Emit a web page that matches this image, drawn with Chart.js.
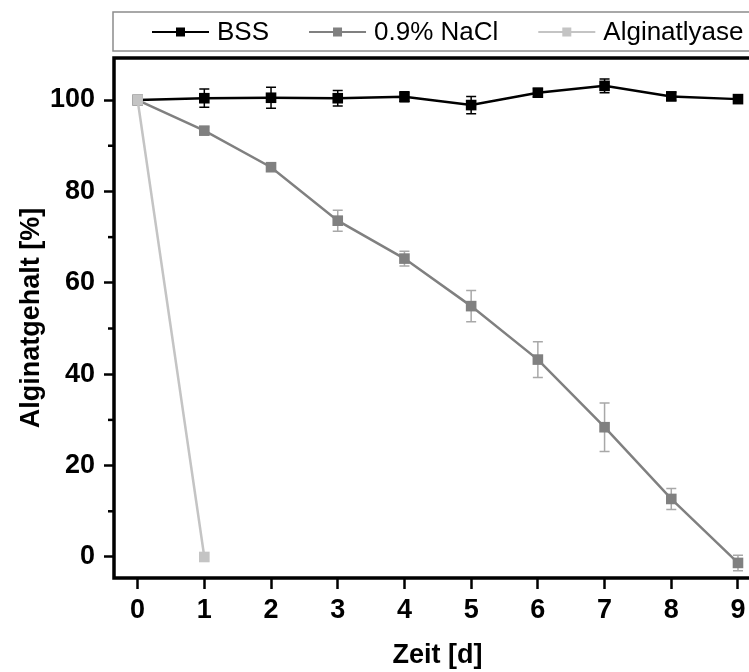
<!DOCTYPE html>
<html>
<head>
<meta charset="utf-8">
<script src="https://cdn.jsdelivr.net/npm/chart.js@4/dist/chart.umd.min.js"></script>
<style>
    html, body { margin: 0; padding: 0; background: #fff; overflow: hidden; }
    #chart { display: block; }
</style>
</head>
<body>
<canvas id="chart" width="770" height="672"></canvas>
<script>
const days = [0, 1, 2, 3, 4, 5, 6, 7, 8, 9];
const bssValues = [100, 100.4, 100.5, 100.4, 100.7, 98.9, 101.6, 103.1, 100.8, 100.2];
const bssErrors = [0, 2.0, 2.3, 1.7, 1.1, 1.9, 0.9, 1.5, 0.9, 0.5];
const naclValues = [100, 93.3, 85.3, 73.6, 65.3, 54.9, 43.2, 28.4, 12.7, -1.3];
const naclErrors = [0, 0.8, 0.8, 2.3, 1.6, 3.4, 3.9, 5.3, 2.3, 1.7];
const lyaseDays = [0, 1];
const lyaseValues = [100, 0];
const lyaseErrors = [0, 0];
const xTicks = [0, 1, 2, 3, 4, 5, 6, 7, 8, 9];
const yTicks = [0, 20, 40, 60, 80, 100];
const yMinorTicks = [10, 30, 50, 70, 90];

const fontFamily = "'Liberation Sans', Arial, sans-serif";

let toPoints = (xs, ys, errs) => xs.map((x, i) => ({ x, y: ys[i], err: errs[i] }));

// error bars, drawn under the markers
const errorBars = {
    id: 'errorBars',
    beforeDatasetsDraw(chart) {
        let ctx = chart.ctx;
        let yScale = chart.scales.y;
        chart.data.datasets.forEach((ds, i) => {
            let meta = chart.getDatasetMeta(i);
            ctx.save();
            ctx.strokeStyle = ds.errorColor;
            ctx.lineWidth = 1.5;
            meta.data.forEach((pt, j) => {
                let p = ds.data[j];
                if (!p.err) return;
                let top = yScale.getPixelForValue(p.y + p.err);
                let bottom = yScale.getPixelForValue(p.y - p.err);
                ctx.beginPath();
                ctx.moveTo(pt.x, top);
                ctx.lineTo(pt.x, bottom);
                ctx.moveTo(pt.x - 5, top);
                ctx.lineTo(pt.x + 5, top);
                ctx.moveTo(pt.x - 5, bottom);
                ctx.lineTo(pt.x + 5, bottom);
                ctx.stroke();
            });
            ctx.restore();
        });
    }
};

// frame, minor ticks and the boxed legend on top
const frameAndLegend = {
    id: 'frameAndLegend',
    afterDraw(chart) {
        let ctx = chart.ctx;
        let area = chart.chartArea;
        let yScale = chart.scales.y;
        ctx.save();

        ctx.strokeStyle = '#000';
        ctx.lineWidth = 2.5;
        yMinorTicks.forEach(v => {
            let y = yScale.getPixelForValue(v);
            ctx.beginPath();
            ctx.moveTo(area.left - 6, y);
            ctx.lineTo(area.left, y);
            ctx.stroke();
        });

        ctx.lineWidth = 3.5;
        ctx.strokeRect(area.left, area.top, area.right - area.left, area.bottom - area.top);

        // legend box
        ctx.strokeStyle = '#8c8c8c';
        ctx.lineWidth = 1.5;
        ctx.strokeRect(113, 12, 700, 39);

        ctx.font = '26px ' + fontFamily;
        ctx.textBaseline = 'middle';
        let x = 152;
        let y = 32;
        chart.data.datasets.forEach(ds => {
            ctx.strokeStyle = ds.borderColor;
            ctx.lineWidth = 2;
            ctx.beginPath();
            ctx.moveTo(x, y);
            ctx.lineTo(x + 57, y);
            ctx.stroke();
            ctx.fillStyle = ds.backgroundColor;
            ctx.fillRect(x + 24, y - 4.5, 9, 9);
            ctx.fillStyle = '#000';
            ctx.fillText(ds.label, x + 65, y + 1);
            x += 65 + ctx.measureText(ds.label).width + 40;
        });

        ctx.restore();
    }
};

const axisFont = { family: fontFamily, size: 27, weight: 'bold' };

new Chart(document.getElementById('chart'), {
    type: 'line',
    data: {
        datasets: [{
            label: 'BSS',
            data: toPoints(days, bssValues, bssErrors),
            borderColor: '#000000',
            backgroundColor: '#000000',
            errorColor: '#000000',
            order: 2
        }, {
            label: '0.9% NaCl',
            data: toPoints(days, naclValues, naclErrors),
            borderColor: '#808080',
            backgroundColor: '#808080',
            errorColor: '#a8a8a8',
            order: 1
        }, {
            label: 'Alginatlyase',
            data: toPoints(lyaseDays, lyaseValues, lyaseErrors),
            borderColor: '#c4c4c4',
            backgroundColor: '#c4c4c4',
            errorColor: '#c4c4c4',
            order: 0
        }]
    },
    options: {
        responsive: false,
        animation: false,
        layout: { padding: { top: 58, left: 0, right: 9, bottom: 0 } },
        elements: {
            line: { borderWidth: 2.5, tension: 0 },
            point: { pointStyle: 'rect', radius: 7.5, borderWidth: 0 }
        },
        plugins: {
            legend: { display: false },
            tooltip: { enabled: false }
        },
        scales: {
            x: {
                type: 'linear',
                min: -0.354,
                max: 9.345,
                afterBuildTicks: scale => { scale.ticks = xTicks.map(v => ({ value: v })); },
                afterFit: scale => { scale.height = 94; },
                grid: {
                    drawOnChartArea: false,
                    drawTicks: true,
                    tickLength: 11,
                    tickWidth: 2.5,
                    tickColor: '#000'
                },
                border: { display: false },
                ticks: { color: '#000', font: axisFont, padding: 5, maxRotation: 0 },
                title: {
                    display: true,
                    text: 'Zeit [d]',
                    color: '#000',
                    font: axisFont,
                    padding: { top: 0, bottom: 0 }
                }
            },
            y: {
                min: -4.6,
                max: 109.2,
                afterBuildTicks: scale => { scale.ticks = yTicks.map(v => ({ value: v })); },
                afterFit: scale => { scale.width = 114; },
                grid: {
                    drawOnChartArea: false,
                    drawTicks: true,
                    tickLength: 10,
                    tickWidth: 2.5,
                    tickColor: '#000'
                },
                border: { display: false },
                ticks: { color: '#000', font: axisFont, padding: 9 },
                title: {
                    display: true,
                    text: 'Alginatgehalt [%]',
                    color: '#000',
                    font: axisFont,
                    padding: { top: 15, bottom: 0 }
                }
            }
        }
    },
    plugins: [errorBars, frameAndLegend]
});
</script>
</body>
</html>
